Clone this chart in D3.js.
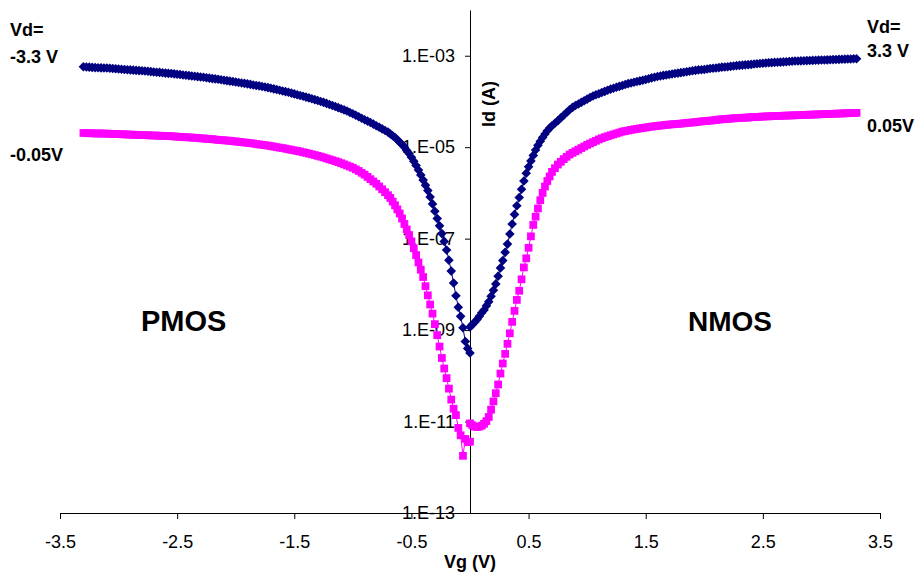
<!DOCTYPE html>
<html>
<head>
<meta charset="utf-8">
<script src="https://cdn.jsdelivr.net/npm/d3@7"></script>
<style>
  body { margin: 0; background: #fff; }
  svg { display: block; font-family: Arial, "Liberation Sans", sans-serif; }
</style>
</head>
<body>
<div id="canvas"></div>
<script>
// gate sweep voltages (V)
var vgP = [-3.3,-3.275,-3.25,-3.225,-3.2,-3.175,-3.15,-3.125,-3.1,-3.075,
  -3.05,-3.025,-3,-2.975,-2.95,-2.925,-2.9,-2.875,-2.85,-2.825,
  -2.8,-2.775,-2.75,-2.725,-2.7,-2.675,-2.65,-2.625,-2.6,-2.575,
  -2.55,-2.525,-2.5,-2.475,-2.45,-2.425,-2.4,-2.375,-2.35,-2.325,
  -2.3,-2.275,-2.25,-2.225,-2.2,-2.175,-2.15,-2.125,-2.1,-2.075,
  -2.05,-2.025,-2,-1.975,-1.95,-1.925,-1.9,-1.875,-1.85,-1.825,
  -1.8,-1.775,-1.75,-1.725,-1.7,-1.675,-1.65,-1.625,-1.6,-1.575,
  -1.55,-1.525,-1.5,-1.475,-1.45,-1.425,-1.4,-1.375,-1.35,-1.325,
  -1.3,-1.275,-1.25,-1.225,-1.2,-1.175,-1.15,-1.125,-1.1,-1.075,
  -1.05,-1.025,-1,-0.975,-0.95,-0.925,-0.9,-0.875,-0.85,-0.825,
  -0.8,-0.775,-0.75,-0.725,-0.7,
  -0.68,-0.66,-0.64,-0.62,-0.6,-0.58,-0.56,-0.54,-0.52,-0.5,
  -0.48,-0.46,-0.44,-0.42,-0.4,-0.38,-0.36,-0.34,-0.32,-0.3,
  -0.28,-0.26,-0.24,-0.22,-0.2,-0.18,-0.16,-0.14,-0.12,-0.1,
  -0.08,-0.06,-0.04,-0.02,0];
var vgN = [0,0.02,0.04,0.06,0.08,0.1,0.12,0.14,0.16,0.18,
  0.2,0.22,0.24,0.26,0.28,0.3,0.32,0.34,0.36,0.38,
  0.4,0.42,0.44,0.46,0.48,0.5,0.52,0.54,0.56,0.58,
  0.6,0.62,0.64,0.66,0.68,0.7,
  0.725,0.75,0.775,0.8,0.825,0.85,0.875,0.9,0.925,0.95,
  0.975,1,1.025,1.05,1.075,1.1,1.125,1.15,1.175,1.2,
  1.225,1.25,1.275,1.3,1.325,1.35,1.375,1.4,1.425,1.45,
  1.475,1.5,1.525,1.55,1.575,1.6,1.625,1.65,1.675,1.7,
  1.725,1.75,1.775,1.8,1.825,1.85,1.875,1.9,1.925,1.95,
  1.975,2,2.025,2.05,2.075,2.1,2.125,2.15,2.175,2.2,
  2.225,2.25,2.275,2.3,2.325,2.35,2.375,2.4,2.425,2.45,
  2.475,2.5,2.525,2.55,2.575,2.6,2.625,2.65,2.675,2.7,
  2.725,2.75,2.775,2.8,2.825,2.85,2.875,2.9,2.925,2.95,
  2.975,3,3.025,3.05,3.075,3.1,3.125,3.15,3.175,3.2,
  3.225,3.25,3.275,3.3];

// log10 of drain current Id (A)
var pmosVd33 = [-3.24,-3.245,-3.25,-3.255,-3.26,-3.262,-3.265,-3.268,-3.27,-3.275,
  -3.28,-3.285,-3.29,-3.295,-3.30,-3.305,-3.31,-3.315,-3.32,-3.325,
  -3.33,-3.335,-3.34,-3.347,-3.355,-3.36,-3.365,-3.372,-3.38,-3.385,
  -3.39,-3.397,-3.405,-3.412,-3.42,-3.427,-3.435,-3.442,-3.45,-3.457,
  -3.465,-3.472,-3.48,-3.49,-3.50,-3.507,-3.515,-3.525,-3.535,-3.545,
  -3.555,-3.565,-3.575,-3.585,-3.595,-3.605,-3.615,-3.627,-3.64,-3.65,
  -3.66,-3.672,-3.685,-3.697,-3.71,-3.725,-3.74,-3.755,-3.77,-3.785,
  -3.80,-3.817,-3.835,-3.852,-3.87,-3.887,-3.905,-3.922,-3.94,-3.96,
  -3.98,-4.00,-4.02,-4.042,-4.065,-4.087,-4.11,-4.135,-4.16,-4.185,
  -4.21,-4.24,-4.27,-4.30,-4.335,-4.367,-4.40,-4.43,-4.46,-4.495,
  -4.53,-4.565,-4.60,-4.635,-4.67,
  -4.71,-4.75,-4.79,-4.84,-4.89,-4.94,-5.00,-5.07,-5.14,-5.22,
  -5.31,-5.40,-5.50,-5.61,-5.72,-5.83,-5.95,-6.09,-6.24,-6.40,
  -6.56,-6.72,-6.89,-7.06,-7.25,-7.47,-7.71,-7.97,-8.25,-8.50,
  -8.70,-8.95,-9.25,-9.40,-9.50];
var pmosVd005 = [-4.69,-4.692,-4.695,-4.697,-4.70,-4.70,-4.70,-4.702,-4.705,-4.707,
  -4.71,-4.712,-4.715,-4.717,-4.72,-4.722,-4.725,-4.727,-4.73,-4.732,
  -4.735,-4.737,-4.74,-4.742,-4.745,-4.747,-4.75,-4.752,-4.755,-4.757,
  -4.76,-4.765,-4.77,-4.775,-4.78,-4.782,-4.785,-4.79,-4.795,-4.80,
  -4.805,-4.81,-4.815,-4.82,-4.825,-4.832,-4.84,-4.845,-4.85,-4.855,
  -4.86,-4.867,-4.875,-4.882,-4.89,-4.897,-4.905,-4.912,-4.92,-4.93,
  -4.94,-4.947,-4.955,-4.965,-4.975,-4.987,-5.00,-5.01,-5.02,-5.032,
  -5.045,-5.057,-5.07,-5.082,-5.095,-5.11,-5.125,-5.14,-5.155,-5.172,
  -5.19,-5.207,-5.225,-5.245,-5.265,-5.285,-5.305,-5.327,-5.35,-5.375,
  -5.40,-5.425,-5.45,-5.485,-5.52,-5.56,-5.60,-5.65,-5.70,-5.75,
  -5.80,-5.86,-5.92,-5.985,-6.05,
  -6.11,-6.19,-6.27,-6.36,-6.45,-6.56,-6.68,-6.80,-6.92,-7.06,
  -7.21,-7.36,-7.52,-7.68,-7.84,-8.04,-8.24,-8.44,-8.64,-8.87,
  -9.11,-9.36,-9.61,-9.84,-10.05,-10.28,-10.52,-10.72,-10.86,-11.14,
  -11.30,-11.75,-11.38,-11.45,-11.44];
var nmosVd33 = [-8.93,-8.88,-8.83,-8.77,-8.70,-8.62,-8.56,-8.47,-8.38,-8.26,
  -8.13,-7.99,-7.82,-7.64,-7.48,-7.30,-7.12,-6.90,-6.68,-6.47,
  -6.28,-6.10,-5.92,-5.74,-5.57,-5.43,-5.30,-5.18,-5.06,-4.96,
  -4.87,-4.79,-4.71,-4.64,-4.58,-4.53,
  -4.475,-4.42,-4.36,-4.30,-4.24,-4.18,-4.13,-4.09,-4.055,-4.02,
  -3.985,-3.95,-3.915,-3.88,-3.855,-3.83,-3.805,-3.78,-3.755,-3.73,
  -3.71,-3.69,-3.67,-3.65,-3.63,-3.61,-3.595,-3.58,-3.565,-3.55,
  -3.535,-3.52,-3.502,-3.485,-3.47,-3.455,-3.442,-3.43,-3.42,-3.41,
  -3.40,-3.39,-3.38,-3.37,-3.36,-3.35,-3.34,-3.33,-3.32,-3.31,
  -3.305,-3.30,-3.29,-3.28,-3.275,-3.27,-3.26,-3.25,-3.245,-3.24,
  -3.232,-3.225,-3.217,-3.21,-3.205,-3.20,-3.195,-3.19,-3.182,-3.175,
  -3.17,-3.165,-3.16,-3.155,-3.15,-3.145,-3.142,-3.14,-3.135,-3.13,
  -3.125,-3.12,-3.117,-3.115,-3.112,-3.11,-3.107,-3.105,-3.102,-3.10,
  -3.097,-3.095,-3.092,-3.09,-3.087,-3.085,-3.082,-3.08,-3.077,-3.075,
  -3.072,-3.07,-3.067,-3.065];
var nmosVd005 = [-11.04,-11.08,-11.11,-11.12,-11.11,-11.09,-11.05,-10.99,-10.90,-10.74,
  -10.56,-10.38,-10.19,-9.95,-9.73,-9.52,-9.30,-9.07,-8.82,-8.58,
  -8.34,-8.14,-7.89,-7.63,-7.43,-7.20,-6.95,-6.70,-6.52,-6.34,
  -6.16,-6.00,-5.86,-5.74,-5.64,-5.54,
  -5.46,-5.38,-5.32,-5.26,-5.21,-5.16,-5.125,-5.09,-5.055,-5.02,
  -4.985,-4.95,-4.92,-4.89,-4.86,-4.83,-4.805,-4.78,-4.76,-4.74,
  -4.72,-4.70,-4.68,-4.66,-4.647,-4.635,-4.622,-4.61,-4.60,-4.59,
  -4.58,-4.57,-4.56,-4.55,-4.542,-4.535,-4.527,-4.52,-4.512,-4.505,
  -4.50,-4.495,-4.49,-4.485,-4.477,-4.47,-4.465,-4.46,-4.452,-4.445,
  -4.437,-4.43,-4.425,-4.42,-4.412,-4.405,-4.397,-4.39,-4.385,-4.38,
  -4.375,-4.37,-4.365,-4.36,-4.357,-4.355,-4.35,-4.345,-4.342,-4.34,
  -4.335,-4.33,-4.327,-4.325,-4.322,-4.32,-4.317,-4.315,-4.312,-4.31,
  -4.307,-4.305,-4.302,-4.30,-4.297,-4.295,-4.292,-4.29,-4.287,-4.285,
  -4.282,-4.28,-4.277,-4.275,-4.272,-4.27,-4.267,-4.265,-4.262,-4.26,
  -4.257,-4.255,-4.252,-4.25];

var xTicks = [-3.5,-2.5,-1.5,-0.5,0.5,1.5,2.5,3.5];
var yTicks = [1e-13,1e-11,1e-9,1e-7,1e-5,1e-3];

var W = 920, H = 576;
var m = {t:10, r:40, b:63, l:60};

var svg = d3.select('#canvas').append('svg')
    .attr('width', W)
    .attr('height', H);

var x = d3.scaleLinear().domain([-3.5,3.5]).range([m.l, W - m.r]);
var y = d3.scaleLog().domain([1e-13,1e-2]).range([H - m.b, m.t]);

//axes
var axisX = d3.axisBottom(x)
    .tickValues(xTicks)
    .tickSizeInner(6)
    .tickSizeOuter(0)
    .tickPadding(16)
    .tickFormat(function(d){ return d.toFixed(1); });
var gx = svg.append('g')
    .attr('transform','translate(0,' + y(1e-13) + ')')
    .call(axisX);

var axisY = d3.axisLeft(y)
    .tickValues(yTicks)
    .tickSizeInner(5)
    .tickSizeOuter(0)
    .tickPadding(10)
    .tickFormat(function(d){
        var e = -Math.round(Math.log10(d));
        return '1.E-' + (e < 10 ? '0' + e : e);
    });
var gy = svg.append('g')
    .attr('transform','translate(' + x(0) + ',0)')
    .call(axisY);

[gx, gy].forEach(function(g){
    g.attr('font-size', 18).attr('font-family', 'Arial, "Liberation Sans", sans-serif');
    g.selectAll('path, line').attr('stroke', '#000');
    g.selectAll('text').attr('fill', '#000');
});

//series
function rows(vg, logs){
    return vg.map(function(v, i){ return {vg: v, id: Math.pow(10, logs[i])}; });
}
var series = [
    {data: rows(vgP, pmosVd33), color: '#000080', shape: 'diamond'},
    {data: rows(vgN, nmosVd33), color: '#000080', shape: 'diamond'},
    {data: rows(vgP, pmosVd005), color: '#FF00FF', shape: 'square'},
    {data: rows(vgN, nmosVd005), color: '#FF00FF', shape: 'square'}
];

var line = d3.line()
    .x(function(d){ return x(d.vg); })
    .y(function(d){ return y(d.id); });

var diamond = d3.symbol().type(d3.symbolSquare).size(46);
var square = d3.symbol().type(d3.symbolSquare).size(60);

series.forEach(function(s){
    var g = svg.append('g');
    g.append('path')
        .datum(s.data)
        .attr('d', line)
        .attr('fill', 'none')
        .attr('stroke', s.color)
        .attr('stroke-width', 1);
    g.selectAll('path.mk')
        .data(s.data)
        .enter().append('path')
        .attr('class', 'mk')
        .attr('d', s.shape == 'diamond' ? diamond : square)
        .attr('fill', s.color)
        .attr('transform', function(d){
            return 'translate(' + x(d.vg) + ',' + y(d.id) + ')' + (s.shape == 'diamond' ? ' rotate(45)' : '');
        });
});

//labels
function label(txt, px, py, size, anchor){
    return svg.append('text')
        .attr('x', px).attr('y', py)
        .attr('font-size', size)
        .attr('font-weight', 'bold')
        .attr('text-anchor', anchor || 'start')
        .text(txt);
}
label('Vd=', 10, 36, 18);
label('-3.3 V', 10, 63, 18);
label('-0.05V', 10, 161, 18);
label('Vd=', 867, 33, 18);
label('3.3 V', 867, 57, 18);
label('0.05V', 867, 132, 18);
label('PMOS', 141, 331, 29);
label('NMOS', 688, 331, 28);
label('Vg (V)', x(0), 568, 18, 'middle');

svg.append('text')
    .attr('transform', 'translate(495,104) rotate(-90)')
    .attr('font-size', 18)
    .attr('font-weight', 'bold')
    .attr('text-anchor', 'middle')
    .text('Id (A)');
</script>
</body>
</html>
